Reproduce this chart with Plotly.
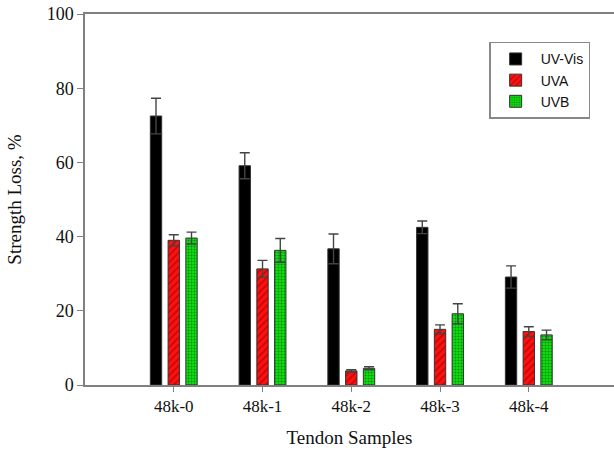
import plotly.graph_objects as go

categories = ["48k-0", "48k-1", "48k-2", "48k-3", "48k-4"]
uv_vis = [72.5, 59.1, 36.7, 42.5, 29.1]
uv_vis_err = [4.8, 3.5, 4.0, 1.7, 3.0]
uva = [39.0, 31.3, 3.8, 15.0, 14.4]
uva_err = [1.5, 2.3, 0.3, 1.2, 1.3]
uvb = [39.6, 36.3, 4.5, 19.2, 13.5]
uvb_err = [1.6, 3.2, 0.4, 2.7, 1.3]

y_ticks = [0, 20, 40, 60, 80, 100]

serif = "Liberation Serif"
err_style = dict(type="data", thickness=1.4, width=5, color="#444444")

fig = go.Figure()
fig.add_trace(go.Bar(
    x=categories, y=uv_vis, name="UV-Vis",
    marker=dict(color="#000000", line=dict(color="#333333", width=1)),
    error_y=dict(array=uv_vis_err, **err_style),
))
fig.add_trace(go.Bar(
    x=categories, y=uva, name="UVA",
    marker=dict(color="#ff1010", line=dict(color="#333333", width=1),
                pattern=dict(shape="/", fgcolor="#7a0000", size=5, solidity=0.3)),
    error_y=dict(array=uva_err, **err_style),
))
fig.add_trace(go.Bar(
    x=categories, y=uvb, name="UVB",
    marker=dict(color="#10e010", line=dict(color="#333333", width=1),
                pattern=dict(shape=".", fgcolor="#003300", size=3, solidity=0.35)),
    error_y=dict(array=uvb_err, **err_style),
))

fig.update_layout(
    width=614, height=452,
    margin=dict(l=85, r=0, t=14, b=67),
    paper_bgcolor="white", plot_bgcolor="white",
    barmode="group", bargap=0.4, bargroupgap=0.36,
    showlegend=True,
    legend=dict(
        x=0.764, y=0.925, xanchor="left", yanchor="top",
        bordercolor="#888888", borderwidth=1.5, bgcolor="white",
        font=dict(family="Liberation Sans", size=14, color="#111111"),
        itemwidth=40, tracegroupgap=0,
    ),
    font=dict(family=serif, color="#111111"),
)
fig.update_xaxes(
    type="category", range=[-1, 4.96], automargin=False,
    showline=True, linecolor="#808080", linewidth=1.5, mirror=True,
    ticks="outside", ticklen=5, tickcolor="#808080", tickwidth=1,
    showgrid=False, zeroline=False,
    tickfont=dict(family=serif, size=17, color="#111111"),
    title=dict(text="Tendon Samples", font=dict(family=serif, size=19, color="#111111"), standoff=16),
)
fig.update_yaxes(
    range=[0, 100], tickvals=y_ticks, automargin=False,
    showline=True, linecolor="#808080", linewidth=1.5, mirror=False,
    ticks="outside", ticklen=6, tickcolor="#808080", tickwidth=1,
    showgrid=False, zeroline=False,
    tickfont=dict(family=serif, size=18, color="#111111"),
    title=dict(text="Strength Loss, %", font=dict(family=serif, size=19, color="#111111"), standoff=20),
)

fig.write_html("out.html", config={"displayModeBar": False},
               post_script="document.body.style.margin='0px';")
